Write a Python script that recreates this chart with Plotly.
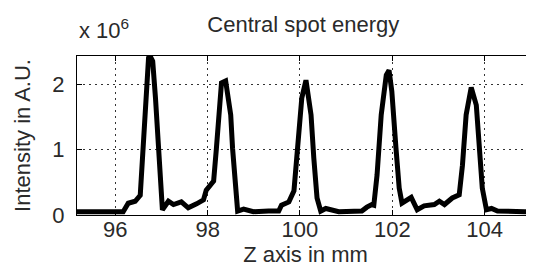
import plotly.graph_objects as go

# Z position (mm)
z_mm = [95.17, 95.41, 95.63, 95.84, 96.06, 96.17, 96.28, 96.43, 96.54, 96.60,
        96.67, 96.72, 96.76, 96.81, 96.87, 96.93, 96.97, 97.02, 97.15, 97.26,
        97.43, 97.58, 97.76, 97.91, 97.97, 98.13, 98.19, 98.30, 98.39, 98.50,
        98.54, 98.60, 98.65, 98.78, 98.99, 99.32, 99.54, 99.60, 99.76, 99.87,
        99.93, 100.04, 100.13, 100.24, 100.30, 100.37, 100.45, 100.56, 100.84, 101.17,
        101.34, 101.45, 101.56, 101.60, 101.67, 101.76, 101.87, 101.93, 101.99, 102.08,
        102.15, 102.21, 102.32, 102.41, 102.54, 102.69, 102.91, 103.02, 103.13, 103.30,
        103.45, 103.52, 103.60, 103.71, 103.82, 103.89, 103.95, 104.04, 104.15, 104.28,
        104.54, 104.87, 105.10]

# Intensity (x 10^6 A.U.)
intensity = [0.05, 0.04, 0.05, 0.05, 0.06, 0.05, 0.18, 0.21, 0.30, 1.02,
             2.05, 2.40, 2.42, 2.35, 1.79, 1.02, 0.41, 0.08, 0.21, 0.16,
             0.20, 0.11, 0.17, 0.23, 0.38, 0.52, 1.02, 2.02, 2.05, 1.53,
             1.02, 0.41, 0.06, 0.09, 0.05, 0.06, 0.06, 0.15, 0.20, 0.37,
             0.92, 1.79, 2.06, 1.53, 0.87, 0.26, 0.06, 0.10, 0.05, 0.05,
             0.06, 0.12, 0.16, 0.15, 0.61, 1.53, 2.14, 2.21, 1.89, 1.02,
             0.41, 0.18, 0.23, 0.27, 0.08, 0.14, 0.16, 0.21, 0.16, 0.26,
             0.31, 0.76, 1.53, 1.95, 1.68, 1.02, 0.41, 0.08, 0.10, 0.06,
             0.05, 0.05, 0.05]

x_ticks = [96, 98, 100, 102, 104]
y_ticks = [0, 1, 2]
y_tick_labels = ["0", "1", "2"]

FONT = "Liberation Sans, Arial, sans-serif"
TXT = "#2a2a2a"
FS = 22

fig = go.Figure()
fig.add_trace(go.Scatter(x=z_mm, y=intensity, mode="lines",
                         line=dict(color="black", width=5), showlegend=False,
                         cliponaxis=True))

axis_common = dict(showline=True, linecolor="black", linewidth=1, mirror="ticks",
                   ticks="inside", ticklen=5, tickcolor="black",
                   showgrid=True, gridcolor="#333333", gridwidth=1, griddash="2px,4px",
                   zeroline=False, tickfont=dict(family=FONT, size=FS, color=TXT))

fig.update_xaxes(range=[95.17, 105.07], tickvals=x_ticks,
                 ticklabelstandoff=-5,
                 title=dict(text="Z axis in mm", font=dict(family=FONT, size=FS, color=TXT),
                            standoff=4),
                 **axis_common)
fig.update_yaxes(range=[0, 2.43], tickvals=y_ticks, ticktext=y_tick_labels,
                 ticklabelstandoff=7,
                 title=dict(text="Intensity in A.U.", font=dict(family=FONT, size=FS, color=TXT),
                            standoff=15),
                 **axis_common)

fig.update_layout(
    width=534, height=270,
    margin=dict(l=69, r=8, t=48, b=63),
    paper_bgcolor="white", plot_bgcolor="white",
    title=dict(text="Central spot energy", x=0.553, xanchor="center", y=0.94, yanchor="middle",
               font=dict(family=FONT, size=FS, color=TXT)),
    annotations=[dict(text="x 10<sup>6</sup>", xref="paper", yref="paper", x=0.0, y=1.07,
                      xanchor="left", yanchor="bottom", showarrow=False,
                      font=dict(family=FONT, size=FS, color=TXT))],
)

fig.write_html("out.html")
